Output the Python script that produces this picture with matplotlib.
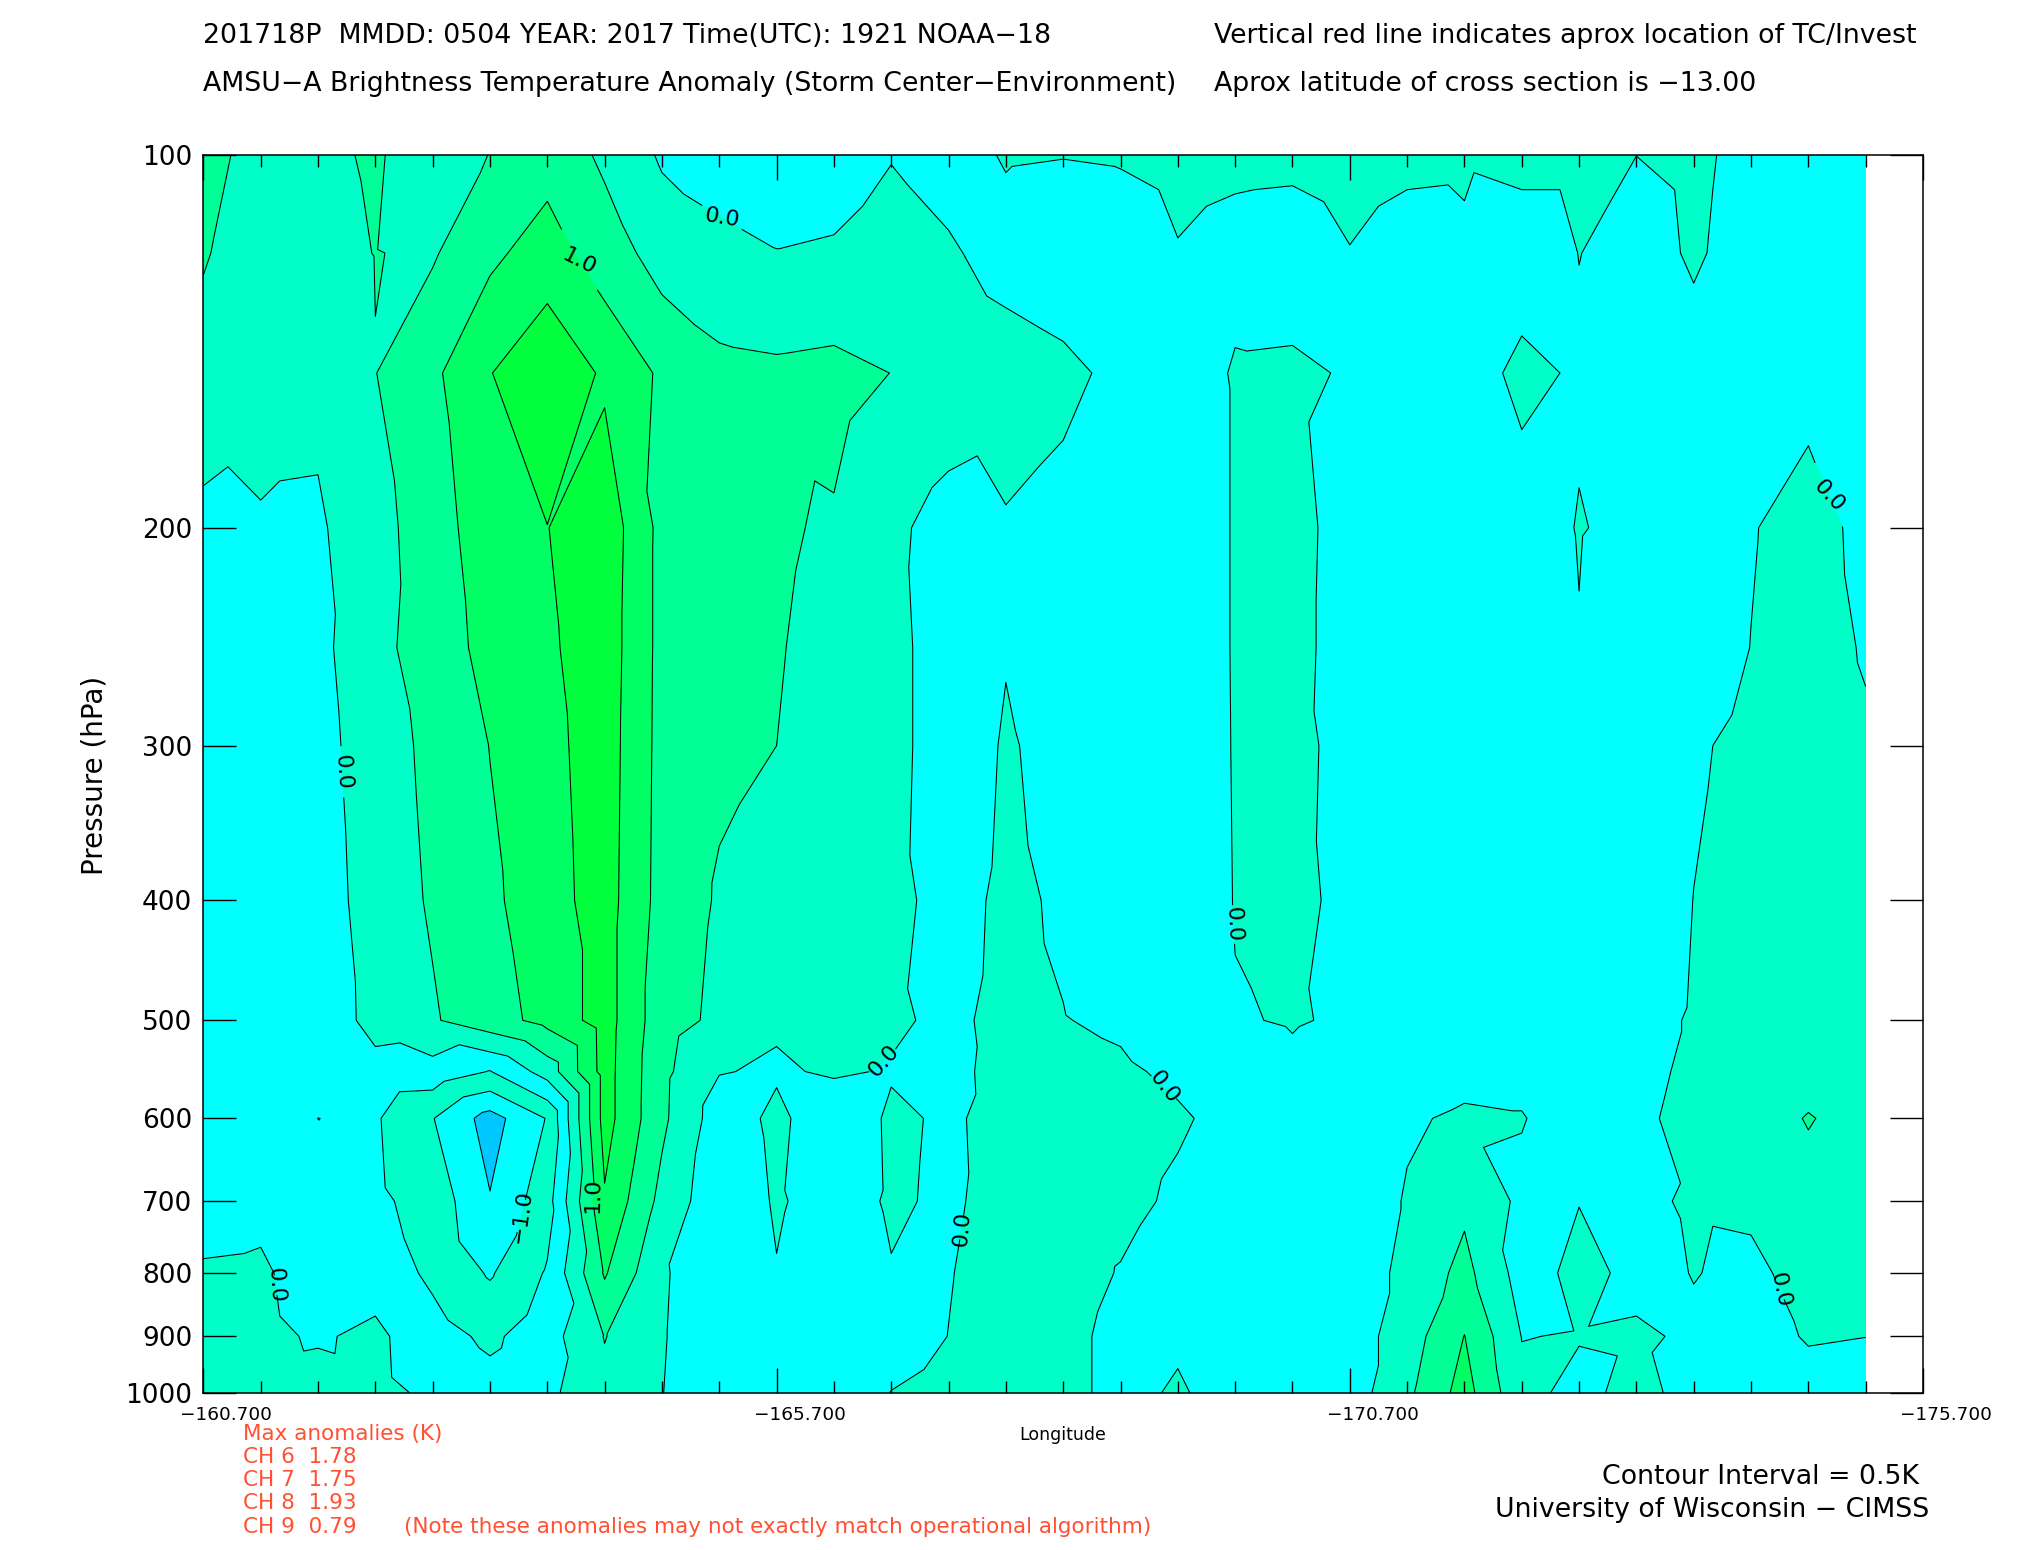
import numpy as np
import matplotlib
matplotlib.use("Agg")
import matplotlib.pyplot as plt
import matplotlib.tri as mtri
from matplotlib.ticker import FixedLocator, FixedFormatter, NullLocator
from matplotlib.transforms import ScaledTranslation

# ---------------- data ----------------
longitudes = [-160.7, -161.2, -161.7, -162.2, -162.7, -163.2, -163.7, -164.2, -164.7, -165.2,
              -165.7, -166.2, -166.7, -167.2, -167.7, -168.2, -168.7, -169.2, -169.7, -170.2,
              -170.7, -171.2, -171.7, -172.2, -172.7, -173.2, -173.7, -174.2, -174.7, -175.2]
pressure = [100, 120, 150, 200, 250, 300, 400, 500, 550, 600, 700, 800, 900, 1000]

t100 = [0.62, 0.37, 0.41, 0.55, 0.26, 0.51, 0.82, 0.41, -0.06, -0.15, -0.2, -0.2, -0.02, -0.15, 0.03,
        0.01, 0.03, 0.10, 0.06, 0.05, 0.10, 0.05, 0.04, 0.10, 0.10, 0.001, 0.05, -0.075, -0.2, -0.2]
t120 = [0.53, 0.30, 0.35, 0.51, 0.45, 0.90, 1.22, 0.75, 0.30, 0.10, 0.01, 0.05, 0.20, 0.05, -0.15,
        -0.25, -0.2, -0.02, -0.1, -0.12, -0.01, -0.1, -0.05, -0.2, 0.005, -0.1, 0.03, -0.1, -0.2, -0.2]
t150 = [0.35, 0.20, 0.10, 0.49, 0.90, 1.48, 1.93, 1.42, 0.92, 0.65, 0.60, 0.65, 0.495, 0.30, 0.20,
        0.10, -0.1, -0.2, 0.03, 0.04, -0.02, -0.2, -0.2, 0.10, -0.05, -0.1, -0.1, -0.15, -0.1, -0.15]
t200 = [-0.15, -0.05, -0.06, 0.30, 0.80, 1.25, 1.49, 1.82, 0.85, 0.75, 0.55, 0.45, 0.11, -0.2, -0.04,
        -0.15, -0.2, -0.3, 0.03, 0.08, -0.1, -0.3, -0.3, -0.2, 0.02, -0.1, -0.2, -0.02, 0.13, -0.087]
t250 = [-0.2, -0.2, -0.13, 0.35, 0.75, 1.15, 1.42, 1.78, 0.85, 0.70, 0.52, 0.40, 0.15, -0.25, -0.02,
        -0.2, -0.3, -0.3, 0.03, 0.07, -0.1, -0.3, -0.3, -0.3, -0.02, -0.3, -0.2, 0.005, 0.15, -0.03]
t300 = [-0.2, -0.2, -0.2, 0.30, 0.60, 1.01, 1.35, 1.75, 0.84, 0.58, 0.50, 0.38, 0.15, -0.25, 0.04,
        -0.127, -0.3, -0.3, 0.025, 0.06, -0.07, -0.3, -0.3, -0.3, -0.3, -0.3, -0.05, 0.1, 0.18, 0.05]
t400 = [-0.2, -0.2, -0.28, 0.25, 0.55, 0.90, 1.30, 1.72, 0.82, 0.45, 0.35, 0.30, 0.12, -0.15, 0.08,
        -0.05, -0.2, -0.3, 0.015, 0.05, -0.05, -0.3, -0.3, -0.3, -0.3, -0.3, 0.005, 0.15, 0.25, 0.2]
t500 = [-0.2, -0.2, -0.3, 0.15, 0.45, 0.80, 1.15, 1.72, 0.70, 0.40, 0.05, 0.20, 0.06, -0.08, 0.10,
        0.01, -0.05, -0.2, -0.02, 0.02, -0.034, -0.3, -0.3, -0.3, -0.3, -0.15, 0.04, 0.2, 0.3, 0.25]
t550 = [-0.2, -0.2, -0.3, -0.15, -0.2, -0.52, 0.21, 1.70, 0.62, 0.02, -0.05, 0.05, -0.03, -0.1, 0.12,
        0.10, 0.05, -0.06, -0.15, -0.06, -0.15, -0.2, -0.1, -0.1, -0.3, -0.15, 0.1, 0.2, 0.3, 0.28]
t600 = [-0.2, -0.2, -0.502, -0.447, -0.98, -1.7, -0.97, 1.70, 0.60, -0.25, 0.10, -0.3, 0.064, -0.05, 0.11,
        0.15, 0.15, 0.04, -0.1, -0.2, -0.2, -0.04, 0.05, 0.02, -0.2, -0.1, 0.15, 0.25, 0.53, 0.3]
t700 = [-0.15, -0.1, -0.3, -0.4, -0.7, -1.47, -0.7, 1.44, 0.35, -0.35, 0.05, -0.2, 0.05, -0.06, 0.14,
        0.18, 0.10, -0.06, -0.2, -0.2, -0.25, 0.03, 0.40, -0.1, -0.01, -0.05, 0.03, 0.05, 0.3, 0.25]
t800 = [0.04, 0.06, -0.2, -0.2, -0.6, -1.05, -0.45, 1.05, 0.05, -0.3, -0.02, -0.3, -0.02, -0.02, 0.18,
        0.15, -0.02, -0.2, -0.2, -0.2, -0.25, 0.11, 0.65, -0.2, 0.12, -0.1, 0.01, -0.06, 0.1, 0.1]
t900 = [0.15, 0.10, -0.05, 0.10, -0.3, -0.6, -0.2, 0.52, 0.03, -0.3, -0.3, -0.3, -0.2, 0.005, 0.20,
        0.10, -0.1, -0.05, -0.15, -0.2, -0.25, 0.25, 1.01, -0.01, 0.02, 0.05, -0.05, -0.1, 0.02, 0.002]
t1000 = [0.2, 0.15, 0.2, 0.12, -0.08, -0.3, -0.1, 0.35, 0.01, -0.3, -0.3, -0.3, 0.01, 0.15, 0.25,
         0.10, -0.1, 0.04, -0.15, -0.25, -0.25, 0.40, 1.20, 0.10, -0.1, 0.117, -0.132, -0.15, -0.1, -0.1]

levels = [-2.0, -1.5, -1.0, -0.5, 0.0, 0.5, 1.0, 1.5, 2.0]
plain_levels = [-1.5, -0.5, 0.5, 1.5]
labelled_levels = [-1.0, 0.0, 1.0]
fill_colors = ["#00c8ff", "#00ffff", "#00ffc8", "#00ffff", "#00ffc8", "#00ff96", "#00ff64", "#00ff3c"]

xtick_major = [-160.7, -165.7, -170.7, -175.7]
xtick_labels = ["\u2212160.700", "\u2212165.700", "\u2212170.700", "\u2212175.700"]
ytick_vals = [100, 200, 300, 400, 500, 600, 700, 800, 900, 1000]
ytick_labels = ["100", "200", "300", "400", "500", "600", "700", "800", "900", "1000"]
channels = ["CH 6", "CH 7", "CH 8", "CH 9"]
max_anom = [1.78, 1.75, 1.93, 0.79]

# label anchor points (lon, hPa) for contour labels
label_pts = [(-161.97, 315), (-161.43, 818), (-165.23, 109), (-166.53, 531), (-167.26, 736),
             (-169.10, 565), (-169.85, 418), (-174.92, 185), (-174.47, 825),
             (-163.99, 120), (-164.14, 693), (-163.32, 718)]

# cells (row index, column index) whose split diagonal is flipped
flip_cells = {(12, 23)}

# ---------------- grid / triangulation ----------------
Z = np.array([t100, t120, t150, t200, t250, t300, t400, t500, t550, t600, t700, t800, t900, t1000])
X, Y = np.meshgrid(np.array(longitudes), np.array(pressure, dtype=float))
nr, nc = Z.shape
tris = []
for i in range(nr - 1):
    for j in range(nc - 1):
        a = i * nc + j
        b = i * nc + j + 1
        c = (i + 1) * nc + j
        d = (i + 1) * nc + j + 1
        use_ad = Z[i, j] + Z[i + 1, j + 1] <= Z[i, j + 1] + Z[i + 1, j]
        if (i, j) in flip_cells:
            use_ad = not use_ad
        if use_ad:
            tris += [[a, b, d], [a, d, c]]
        else:
            tris += [[a, b, c], [b, d, c]]
triang = mtri.Triangulation(X.ravel(), Y.ravel(), np.array(tris))

# ---------------- figure ----------------
plt.rcParams["font.family"] = ["DejaVu Sans"]
plt.rcParams["contour.negative_linestyle"] = "solid"
fig = plt.figure(figsize=(20.25, 15.5), dpi=100)
ax = fig.add_axes([0.10044, 0.10129, 0.94963 - 0.10044, 0.9 - 0.10129])

ax.tricontourf(triang, Z.ravel(), levels=levels, colors=fill_colors)
ax.tricontour(triang, Z.ravel(), levels=plain_levels, colors="k", linewidths=0.75,
              linestyles="solid")
cs = ax.tricontour(triang, Z.ravel(), levels=labelled_levels, colors="k", linewidths=0.75,
                   linestyles="solid")


def fmt(v):
    if abs(v) < 1e-9:
        v = 0.0
    return f"{v:.1f}".replace("-", "\u2212")


ax.clabel(cs, manual=label_pts, fmt=fmt, fontsize=16, inline=True, inline_spacing=3, colors="k")

ax.set_yscale("log")
ax.set_ylim(1000, 100)
ax.set_xlim(-160.7, -175.7)

ax.yaxis.set_major_locator(FixedLocator(ytick_vals))
ax.yaxis.set_major_formatter(FixedFormatter(ytick_labels))
ax.yaxis.set_minor_locator(NullLocator())
ax.xaxis.set_major_locator(FixedLocator(xtick_major))
ax.xaxis.set_major_formatter(FixedFormatter(xtick_labels))
minor_x = [v for v in longitudes if v not in xtick_major]
ax.xaxis.set_minor_locator(FixedLocator(minor_x))

ax.tick_params(axis="y", which="major", direction="in", length=24, width=1.0,
               left=True, right=True, labelsize=19, pad=8)
ax.tick_params(axis="x", which="major", direction="in", length=18, width=1.0,
               top=True, bottom=True, labelsize=13.3, pad=9)
ax.tick_params(axis="x", which="minor", direction="in", length=8.5, width=1.0,
               top=True, bottom=True)
shift = ScaledTranslation(23 / 100.0, 0, fig.dpi_scale_trans)
for lab in ax.get_xticklabels():
    lab.set_transform(lab.get_transform() + shift)
for sp in ax.spines.values():
    sp.set_linewidth(1.1)

# axis titles
fig.text(0.0466, 0.5, "Pressure (hPa)", rotation=90, ha="center", va="center", fontsize=20)
fig.text(0.5249, 0.0742, "Longitude", ha="center", va="center", fontsize=12.5)

# header
hs = 19.3
fig.text(0.1004, 0.9768, "201718P  MMDD: 0504 YEAR: 2017 Time(UTC): 1921 NOAA\u221218",
         ha="left", va="center", fontsize=hs, color="black")
fig.text(0.5995, 0.9768, "Vertical red line indicates aprox location of TC/Invest",
         ha="left", va="center", fontsize=hs, color="black")
fig.text(0.1004, 0.9458, "AMSU\u2212A Brightness Temperature Anomaly (Storm Center\u2212Environment)",
         ha="left", va="center", fontsize=hs, color="black")
fig.text(0.5995, 0.9458, "Aprox latitude of cross section is \u221213.00",
         ha="left", va="center", fontsize=hs, color="black")

# red max anomalies block
red = "#ff5032"
rs = 15.5
fig.text(0.1199, 0.0751, "Max anomalies (K)", ha="left", va="center", fontsize=rs, color=red)
ys = [0.0601, 0.0452, 0.0301, 0.0151]
for ch, val, yy in zip(channels, max_anom, ys):
    fig.text(0.1199, yy, f"{ch}  {val:.2f}", ha="left", va="center", fontsize=rs, color=red)
fig.text(0.1996, 0.0151, "(Note these anomalies may not exactly match operational algorithm)",
         ha="left", va="center", fontsize=rs, color=red)

# bottom right
fig.text(0.9477, 0.0468, "Contour Interval = 0.5K", ha="right", va="center", fontsize=hs)
fig.text(0.9528, 0.0259, "University of Wisconsin \u2212 CIMSS", ha="right", va="center", fontsize=hs)

fig.savefig("out.png", dpi=100, facecolor="white")
